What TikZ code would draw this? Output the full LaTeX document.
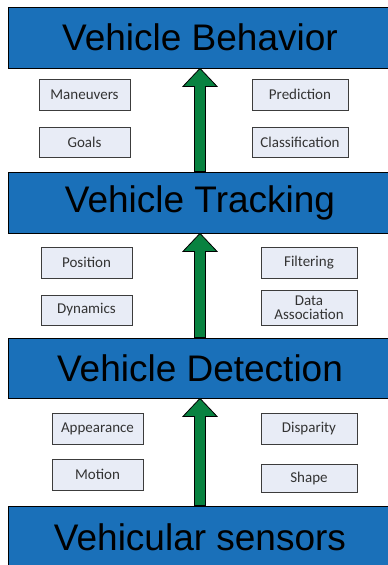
\documentclass[tikz,border=0pt]{standalone}
\usepackage{fontspec}
\setmainfont{Liberation Sans}
\newfontfamily\smallfont{Carlito}
\usetikzlibrary{calc}
\definecolor{bigblue}{RGB}{26,112,185}
\definecolor{arrowgreen}{RGB}{8,130,64}
\definecolor{smallfill}{RGB}{232,236,246}
\definecolor{smallborder}{RGB}{60,60,60}
\tikzset{
  layer/.style={draw=black, line width=0.8pt, fill=bigblue, minimum width=384pt, inner sep=0pt,
    font=\fontsize{37}{40}\selectfont, text=black},
  item/.style={draw=smallborder, line width=0.9pt, fill=smallfill, inner sep=0pt,
    font=\smallfont\fontsize{15}{16}\selectfont, text=black!80, align=center},
  itemL/.style={item, minimum width=91pt},
  itemR/.style={item, minimum width=96pt},
  garrow/.style={draw=black, line width=0.8pt, fill=arrowgreen, line join=miter}
}
\newcommand{\uparrowshape}[2]{%
  \path[garrow] ([xshift=-5.5pt]#2.north) -- ([xshift=-5.5pt,yshift=-18pt]#1.south)
    -- ([xshift=-17pt,yshift=-18pt]#1.south) -- (#1.south)
    -- ([xshift=17pt,yshift=-18pt]#1.south) -- ([xshift=5.5pt,yshift=-18pt]#1.south)
    -- ([xshift=5.5pt]#2.north) -- cycle;}
\begin{document}
\begin{tikzpicture}[x=1pt,y=1pt]
\useasboundingbox (0,0) rectangle (388,-565);
\fill[white] (0,0) rectangle (388,-565);
\node[layer, minimum height=61pt] (behav) at (200,-37.5) {Vehicle Behavior};
\node[layer, minimum height=61pt] (track) at (200,-202.5) {Vehicle Tracking};
\node[layer, minimum height=60pt] (detect) at (200,-368) {Vehicle Detection};
\node[layer, minimum height=62pt] (sensors) at (200,-537) {Vehicular sensors};

\uparrowshape{behav}{track}
\uparrowshape{track}{detect}
\uparrowshape{detect}{sensors}

\node[itemL, minimum height=31pt] (maneuvers) at (84.5,-94.5) {Maneuvers};
\node[itemL, minimum height=30pt] (goals) at (84.5,-142) {Goals};
\node[itemR, minimum height=31pt] (prediction) at (300,-94.5) {Prediction};
\node[itemR, minimum height=30pt] (classification) at (300,-142) {Classification};

\node[itemL, minimum height=31pt] (position) at (86.5,-262.5) {Position};
\node[itemL, minimum height=30pt] (dynamics) at (86.5,-310) {Dynamics};
\node[itemR, minimum height=31pt] (filtering) at (309,-262.5) {Filtering};
\node[itemR, minimum height=35pt] (dataassoc) at (309,-307.5) {Data\\[-2pt]Association};

\node[itemL, minimum height=31pt] (appearance) at (97.5,-428.5) {Appearance};
\node[itemL, minimum height=31pt] (motion) at (97.5,-474.5) {Motion};
\node[itemR, minimum height=31pt] (disparity) at (309,-428.5) {Disparity};
\node[itemR, minimum height=28pt] (shape) at (309,-478) {Shape};
\end{tikzpicture}
\end{document}
